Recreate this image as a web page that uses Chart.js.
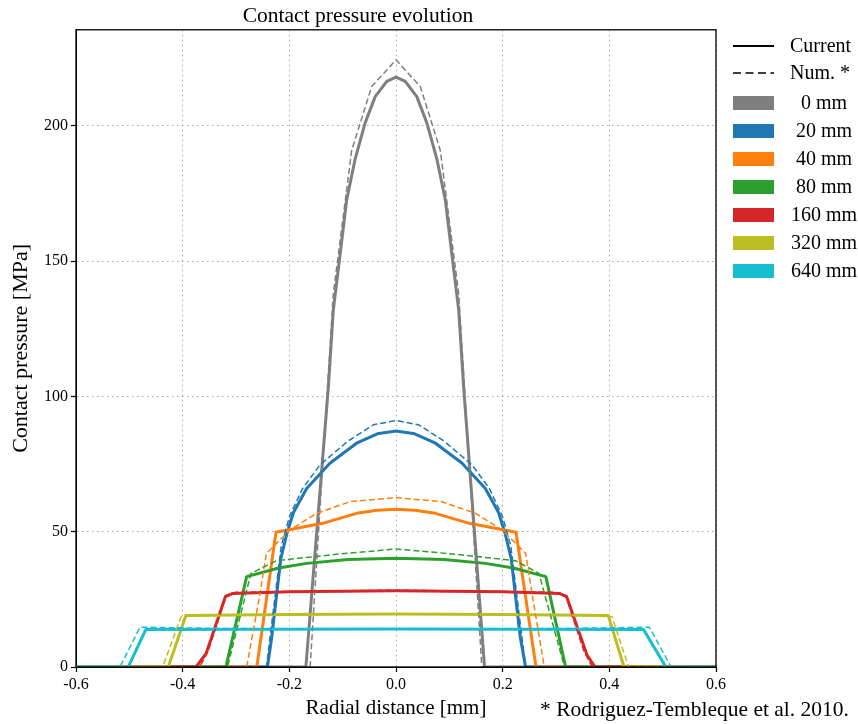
<!DOCTYPE html>
<html>
<head>
<meta charset="utf-8">
<title>Contact pressure evolution</title>
<script src="https://cdn.jsdelivr.net/npm/chart.js@4.4.1/dist/chart.umd.min.js"></script>
<style>
  body { margin: 0; background: #fff; }
  canvas { display: block; }
</style>
</head>
<body>
<canvas id="pressureChart" width="858" height="724"></canvas>
<script>
// sliding distances shown in the legend
const cases = ['0 mm', '20 mm', '40 mm', '80 mm', '160 mm', '320 mm', '640 mm'];

// radial distance [mm] and contact pressure [MPa], current model (solid)
const x0 = [-0.6, -0.169, -0.127, -0.1175, -0.106, -0.0925, -0.077, -0.058, -0.039, -0.0175, 0, 0.0175, 0.039, 0.058, 0.077, 0.0925, 0.106, 0.1175, 0.127, 0.166, 0.6];
const p0 = [0, 0, 103, 132, 150.5, 172.6, 187.4, 201, 210.8, 216.4, 218, 216.4, 210.8, 201, 187.4, 172.6, 150.5, 132, 103, 0, 0];
const x20 = [-0.6, -0.241, -0.233, -0.216, -0.205, -0.1925, -0.1675, -0.124, -0.074, -0.035, 0, 0.035, 0.074, 0.124, 0.1675, 0.1925, 0.205, 0.216, 0.233, 0.243, 0.6];
const p20 = [0, 0, 11, 40, 49, 57, 66, 75.3, 82.7, 86.2, 87.2, 86.2, 82.7, 75.3, 66, 57, 49, 40, 11, 0, 0];
const x40 = [-0.6, -0.261, -0.225, -0.1375, -0.074, -0.035, 0, 0.035, 0.074, 0.1375, 0.225, 0.2625, 0.6];
const p40 = [0, 0, 49.8, 53.1, 56.8, 57.9, 58.3, 57.9, 56.8, 53.1, 49.8, 0, 0];
const x80 = [-0.6, -0.319, -0.28, -0.22, -0.1675, -0.09, 0, 0.09, 0.1675, 0.22, 0.281, 0.318, 0.6];
const p80 = [0, 0, 33.4, 36.6, 38.3, 39.7, 40.2, 39.7, 38.3, 36.6, 33.4, 0, 0];
const x160 = [-0.6, -0.375, -0.356, -0.32, -0.306, -0.2, 0, 0.2, 0.306, 0.32, 0.358, 0.373, 0.6];
const p160 = [0, 0, 5, 26, 27.2, 27.8, 28.2, 27.8, 27.2, 26, 4.5, 0, 0];
const x320 = [-0.6, -0.427, -0.394, -0.2, 0, 0.2, 0.398, 0.4275, 0.6];
const p320 = [0, 0, 19.0, 19.4, 19.6, 19.4, 19.0, 0, 0];
const x640 = [-0.6, -0.502, -0.469, 0, 0.464, 0.506, 0.6];
const p640 = [0, 0, 13.9, 14.0, 13.9, 0, 0];

// numerical reference, Rodriguez-Tembleque et al. 2010 (dashed)
const x0Num = [-0.6, -0.161, -0.1175, -0.083, -0.0456, 0, 0.0456, 0.083, 0.1175, 0.161, 0.6];
const p0Num = [0, 0, 138, 191, 214.5, 224.4, 214.5, 191, 138, 0, 0];
const x20Num = [-0.6, -0.243, -0.215, -0.199, -0.175, -0.1425, -0.09, -0.0425, 0, 0.0425, 0.09, 0.1425, 0.175, 0.199, 0.215, 0.243, 0.6];
const p20Num = [0, 0, 45, 56, 66, 74.7, 83.5, 89.5, 91.1, 89.5, 83.5, 74.7, 66, 56, 45, 0, 0];
const x40Num = [-0.6, -0.28, -0.256, -0.243, -0.199, -0.149, -0.086, 0, 0.086, 0.149, 0.199, 0.243, 0.256, 0.278, 0.6];
const p40Num = [0, 0, 26, 42, 50.6, 56.8, 61.1, 62.6, 61.1, 56.8, 50.6, 42, 26, 0, 0];
const x80Num = [-0.6, -0.316, -0.272, -0.224, -0.105, 0, 0.105, 0.224, 0.268, 0.316, 0.6];
const p80Num = [0, 0, 34.6, 39.3, 41.8, 43.6, 41.8, 39.3, 34.6, 0, 0];
const x160Num = [-0.6, -0.368, -0.352, -0.318, -0.3, 0, 0.3, 0.318, 0.352, 0.368, 0.6];
const p160Num = [0, 0, 6, 26.6, 27.6, 28.4, 27.6, 26.6, 6, 0, 0];
const x320Num = [-0.6, -0.4375, -0.403, -0.3, 0, 0.3, 0.405, 0.436, 0.6];
const p320Num = [0, 0, 18.6, 19.3, 19.6, 19.3, 18.6, 0, 0];
const x640Num = [-0.6, -0.5175, -0.48, -0.3, 0, 0.3, 0.475, 0.516, 0.6];
const p640Num = [0, 0, 14.7, 14.2, 14.0, 14.2, 14.7, 0, 0];

const xTicks = [-0.6, -0.4, -0.2, 0, 0.2, 0.4, 0.6];
const yTicks = [0, 50, 100, 150, 200];

const curX = [x0, x20, x40, x80, x160, x320, x640];
const curP = [p0, p20, p40, p80, p160, p320, p640];
const numX = [x0Num, x20Num, x40Num, x80Num, x160Num, x320Num, x640Num];
const numP = [p0Num, p20Num, p40Num, p80Num, p160Num, p320Num, p640Num];

const colors = ['#7f7f7f', '#1f77b4', '#ff7f0e', '#2ca02c', '#d62728', '#bcbd22', '#17becf'];
const serif = "'Liberation Serif', 'DejaVu Serif', serif";

const zip = (xs, ys) => xs.map((x, i) => ({ x: x, y: ys[i] }));

const datasets = [];
cases.forEach((name, i) => {
  datasets.push({
    label: name + ' current',
    data: zip(curX[i], curP[i]),
    borderColor: colors[i],
    borderWidth: 3,
    pointRadius: 0,
    order: 20 - i
  });
});
cases.forEach((name, i) => {
  datasets.push({
    label: name + ' num',
    data: zip(numX[i], numP[i]),
    borderColor: colors[i],
    borderWidth: 1.5,
    borderDash: [6, 3],
    pointRadius: 0,
    order: 10 - i
  });
});

// black box round the plot, drawn over the lines like matplotlib spines
const frame = {
  id: 'frame',
  afterDatasetsDraw(chart) {
    const { ctx, chartArea: a } = chart;
    ctx.save();
    ctx.strokeStyle = '#000';
    ctx.lineWidth = 1.3;
    ctx.strokeRect(a.left, a.top, a.right - a.left, a.bottom - a.top);
    ctx.restore();
  }
};

// legend at the right and the source note under it
const sideLegend = {
  id: 'sideLegend',
  afterDraw(chart) {
    const ctx = chart.ctx;
    ctx.save();
    ctx.font = '20px ' + serif;
    ctx.fillStyle = '#000';
    ctx.textBaseline = 'middle';
    ctx.strokeStyle = '#000';

    ctx.lineWidth = 2.2;
    ctx.beginPath(); ctx.moveTo(733, 46); ctx.lineTo(774, 46); ctx.stroke();
    ctx.fillText('Current', 790, 47);

    ctx.lineWidth = 1.6;
    ctx.setLineDash([8, 4.5]);
    ctx.beginPath(); ctx.moveTo(733, 73); ctx.lineTo(774, 73); ctx.stroke();
    ctx.setLineDash([]);
    ctx.fillText('Num. *', 790, 74);

    ctx.textAlign = 'center';
    cases.forEach((name, i) => {
      const y = 103 + i * 28;
      ctx.fillStyle = colors[i];
      ctx.fillRect(733, y - 7, 41, 14);
      ctx.fillStyle = '#000';
      ctx.fillText(name, 824, y + 1);
    });

    ctx.textAlign = 'left';
    ctx.font = '21.5px ' + serif;
    ctx.fillText('* Rodriguez-Tembleque et al. 2010.', 540, 710);
    ctx.restore();
  }
};

new Chart(document.getElementById('pressureChart'), {
  type: 'line',
  data: { datasets: datasets },
  options: {
    responsive: false,
    animation: false,
    devicePixelRatio: 1,
    layout: { padding: { top: 0, right: 142, left: 0, bottom: 0 } },
    plugins: {
      legend: { display: false },
      tooltip: { enabled: false },
      title: {
        display: true,
        text: 'Contact pressure evolution',
        color: '#000',
        font: { family: serif, size: 21.5, weight: 'normal' },
        padding: { top: 3, bottom: 1 }
      }
    },
    elements: { line: { tension: 0, borderJoinStyle: 'round' } },
    scales: {
      x: {
        type: 'linear',
        min: -0.6,
        max: 0.6,
        afterBuildTicks: s => { s.ticks = xTicks.map(v => ({ value: v })); },
        afterFit: s => { s.height = 57; },
        ticks: {
          color: '#000',
          font: { family: serif, size: 16 },
          padding: 3,
          maxRotation: 0,
          callback: v => v.toFixed(1)
        },
        grid: { color: '#a8a8a8', lineWidth: 1, tickLength: 5, tickColor: '#000', tickWidth: 1.2 },
        border: { display: true, color: '#000', dash: [1.5, 3.5] },
        title: {
          display: true,
          text: 'Radial distance [mm]',
          color: '#000',
          font: { family: serif, size: 21 },
          padding: { top: 0, bottom: 3 }
        }
      },
      y: {
        min: 0,
        max: 235.5,
        afterBuildTicks: s => { s.ticks = yTicks.map(v => ({ value: v })); },
        afterFit: s => { s.width = 76; },
        ticks: {
          color: '#000',
          font: { family: serif, size: 16 },
          padding: 3
        },
        grid: { color: '#a8a8a8', lineWidth: 1, tickLength: 5, tickColor: '#000', tickWidth: 1.2 },
        border: { display: true, color: '#000', dash: [1.5, 3.5] },
        title: {
          display: true,
          text: 'Contact pressure [MPa]',
          color: '#000',
          font: { family: serif, size: 22 },
          padding: { top: 8, bottom: 0 }
        }
      }
    }
  },
  plugins: [frame, sideLegend]
});
</script>
</body>
</html>
